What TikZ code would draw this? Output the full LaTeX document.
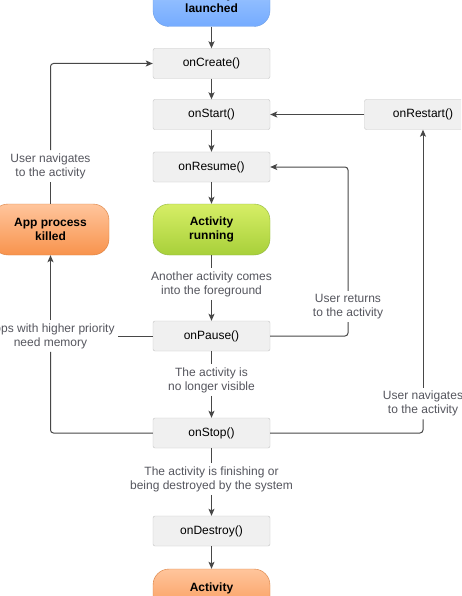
\documentclass[tikz,border=0pt]{standalone}
\usepackage{fontspec}
\setmainfont{Liberation Sans}
\usetikzlibrary{arrows.meta}

\definecolor{cbfill}{HTML}{F0F0F0}
\definecolor{cbline}{HTML}{C4C4C4}
\definecolor{lblgray}{HTML}{55565E}
\definecolor{flowgray}{HTML}{474747}
\definecolor{bluetop}{HTML}{A9CDFF}
\definecolor{bluebot}{HTML}{74ABFF}
\definecolor{blueline}{HTML}{6F9FE6}
\definecolor{greentop}{HTML}{D6EE66}
\definecolor{greenbot}{HTML}{A8D03A}
\definecolor{greenline}{HTML}{8EB53C}
\definecolor{orangetop}{HTML}{FFC59C}
\definecolor{orangebot}{HTML}{F8934D}
\definecolor{orangeline}{HTML}{D97E3C}

\begin{document}
\begin{tikzpicture}[x=1pt, y=-1pt,
            cb/.style={
              draw=cbline, fill=cbfill,
              rounded corners=2pt,
              minimum width=117pt, minimum height=30pt,
              font=\fontsize{12}{14}\selectfont
            },
            pill/.style={
              draw=#1line, top color=#1top, bottom color=#1bot,
              rounded corners=16pt,
              minimum width=117pt, minimum height=51pt,
              align=center,
              font=\fontsize{12}{14}\selectfont\bfseries
            },
            lbl/.style={
              text=lblgray, align=center, inner sep=3pt,
              font=\fontsize{12}{14}\selectfont
            },
            flow/.style={
              draw=flowgray, line width=1pt, rounded corners=3pt
            },
            arr/.style={
              flow, -{Stealth[length=7pt,width=6pt,inset=1.5pt]}
            }
        ]
\def\mx{211.5}
\fill[white] (0,0) rectangle (461,596);
\path[use as bounding box, clip] (0,0) rectangle (461,596);

% states
\node[pill=blue] (launched) at (\mx, 1) {Activity\\launched};
\node[pill=green] (running) at (\mx, 229.5) {Activity\\running};
\node[pill=orange] (killed) at (50.5, 229.5) {App process\\killed};
\node[pill=orange] (shutdown) at (\mx, 594.5) {Activity\\shut down};

% callbacks
\foreach \n/\y/\t in {create/63.5/onCreate(), start/114.5/onStart(),
                      resume/167/onResume(), pause/336/onPause(),
                      stop/433/onStop(), destroy/531/onDestroy()}
    \node[cb] (\n) at (\mx, \y) {\t};
\node[cb] (restart) at (423, 114.5) {onRestart()};

% labels
\node[lbl] (lnav) at (50.5, 166) {User navigates\\to the activity};
\node[lbl] (lfore) at (\mx, 284) {Another activity comes\\into the foreground};
\node[lbl] (lmem) at (50.5, 336) {Apps with higher priority\\need memory};
\node[lbl] (lret) at (348, 306.5) {User returns\\to the activity};
\node[lbl] (lvis) at (\mx, 380) {The activity is\\no longer visible};
\node[lbl] (rnav) at (423, 403.5) {User navigates\\to the activity};
\node[lbl] (ldest) at (\mx, 479) {The activity is finishing or\\being destroyed by the system};

% main column
\draw[arr] (launched) -- (create);
\foreach \a/\b in {create/start, start/resume, resume/running, destroy/shutdown}
    \draw[arr] (\a) -- (\b);
\foreach \a/\l/\b in {running/lfore/pause, pause/lvis/stop, stop/ldest/destroy}{
    \draw[flow] (\a.south) -- (\l.north);
    \draw[arr] (\l.south) -- (\b.north);
}

% side loops
\draw[arr] (restart) -- (start);
\draw[flow] (killed.north) -- (lnav.south);
\draw[arr] (lnav.north) |- (create.west);
\draw[flow] (pause.west) -- (lmem.east);
\draw[flow] (stop.west) -| (lmem.south);
\draw[arr] (lmem.north) -- (killed.south);
\draw[flow] (pause.east) -| (lret.south);
\draw[arr] (lret.north) |- (resume.east);
\draw[flow] (stop.east) -| (rnav.south);
\draw[arr] (rnav.north) -- (restart.south);

\end{tikzpicture}
\end{document}
